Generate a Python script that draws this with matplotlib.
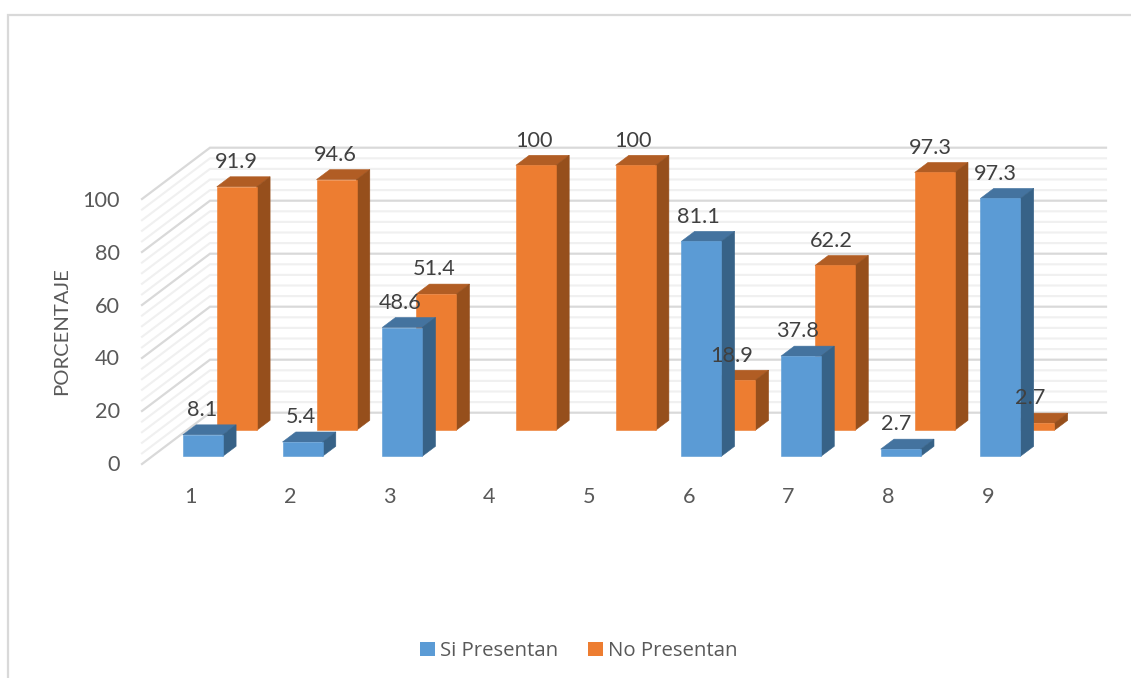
#3D-style clustered bars drawn by hand on a flat axes, one axes unit = one category / one percent
import numpy as np
import matplotlib
matplotlib.use('Agg')
import matplotlib.pyplot as plt
from matplotlib.patches import Polygon, Patch

categories = ['1', '2', '3', '4', '5', '6', '7', '8', '9']
si_presentan = [8.1, 5.4, 48.6, 0, 0, 81.1, 37.8, 2.7, 97.3]
no_presentan = [91.9, 94.6, 51.4, 100, 100, 18.9, 62.2, 97.3, 2.7]
y_ticks = [0, 20, 40, 60, 80, 100]

W, H = 1131, 678
PX_CAT = 99.7     # pixels per category
PX_VAL = 2.65     # pixels per percent
X0 = 202.8        # pixel x of category 1
Y0 = 456.3        # pixel y of value 0 on the front row

plt.rcParams['font.family'] = ['Lato', 'DejaVu Sans']

fig = plt.figure(figsize=(W / 100, H / 100), dpi=100)
ax = fig.add_axes([0, 0, 1, 1])
ax.set_xlim(1 - X0 / PX_CAT, 1 + (W - X0) / PX_CAT)
ax.set_ylim(-(H - Y0) / PX_VAL, Y0 / PX_VAL)
ax.axis('off')

# helpers to give offsets in pixels
def dx(px):
    return px / PX_CAT

def dy(px):
    return px / PX_VAL

def px_x(px):
    return 1 + (px - X0) / PX_CAT

def px_y(py):
    return (Y0 - py) / PX_VAL

BAR_W = dx(40)
DEPTH_X = dx(13.3)
DEPTH_Y = dy(10)

# outer frame, only top and left
ax.plot([px_x(8), px_x(8), px_x(1131)], [px_y(678), px_y(15), px_y(15)],
        color='#d9d9d9', lw=1.6, solid_joinstyle='miter', zorder=1)

# floor and back wall grid
side_x, back_x, end_x = px_x(142), px_x(210), px_x(1106)
side_y, back_y = px_y(464), px_y(412.7)
for v in np.arange(0, 101, 4):
    major = v in y_ticks
    ax.plot([side_x, back_x, end_x], [side_y + v, back_y + v, back_y + v],
            color='#d9d9d9' if major else '#f0f0f0',
            lw=1.6 if major else 1.5, zorder=2 if major else 1.5,
            solid_joinstyle='miter')


def draw_bar(x, base, value, front, top, side, z):
    left, right = x - BAR_W / 2, x + BAR_W / 2
    height = base + value
    ax.add_patch(Polygon([(left, height), (left + DEPTH_X, height + DEPTH_Y),
                          (right + DEPTH_X, height + DEPTH_Y), (right, height)],
                         closed=True, fc=top, ec=top, lw=0.4, zorder=z))
    ax.add_patch(Polygon([(right, base), (right + DEPTH_X, base + DEPTH_Y),
                          (right + DEPTH_X, height + DEPTH_Y), (right, height)],
                         closed=True, fc=side, ec=side, lw=0.4, zorder=z))
    ax.add_patch(Polygon([(left, base), (right, base), (right, height), (left, height)],
                         closed=True, fc=front, ec=front, lw=0.4, zorder=z + 0.1))


BLUE = ('#5b9bd5', '#44739f', '#376287')
ORANGE = ('#ed7d31', '#b15d24', '#964f1c')
ORANGE_DX, ORANGE_BASE = dx(34), dy(26)

xs = np.arange(1, len(categories) + 1)

for i, x in enumerate(xs):
    if no_presentan[i] > 0:
        draw_bar(x + ORANGE_DX, ORANGE_BASE, no_presentan[i], *ORANGE, 3)
for i, x in enumerate(xs):
    if si_presentan[i] > 0:
        draw_bar(x, 0, si_presentan[i], *BLUE, 4)

# value labels, skipped where the series has no bar
for i, x in enumerate(xs):
    shift = dx(-0.7 - 0.5 * i)
    if si_presentan[i] > 0:
        ax.text(x + shift, si_presentan[i] + dy(24.7), f'{si_presentan[i]:g}',
                ha='center', va='center', fontsize=15.6, color='#404040', zorder=6)
    ax.text(x + ORANGE_DX + shift, ORANGE_BASE + no_presentan[i] + dy(24.7), f'{no_presentan[i]:g}',
            ha='center', va='center', fontsize=15.6, color='#404040', zorder=6)

# axis texts
for v in y_ticks:
    ax.text(px_x(120), px_y(465) + v * 264 / 265, str(v), ha='right', va='center',
            fontsize=15.6, color='#595959')
for x, c in zip(xs, categories):
    ax.text(x - dx(12.5), px_y(497), c, ha='center', va='center', fontsize=15.6, color='#595959')
ax.text(px_x(62), px_y(331), 'PORCENTAJE', rotation=90, ha='center', va='center',
        fontsize=14.6, color='#595959')

handles = [Patch(fc=BLUE[0], label='Si Presentan'), Patch(fc=ORANGE[0], label='No Presentan')]
ax.legend(handles=handles, ncol=2, loc='center', bbox_to_anchor=(579 / W, 1 - 651 / H),
          frameon=False, labelcolor='#595959', handlelength=0.72, handleheight=0.72,
          handletextpad=0.27, columnspacing=1.45, borderpad=0,
          prop={'family': 'Open Sans', 'size': 14.7})

fig.savefig('out.png', dpi=100)
